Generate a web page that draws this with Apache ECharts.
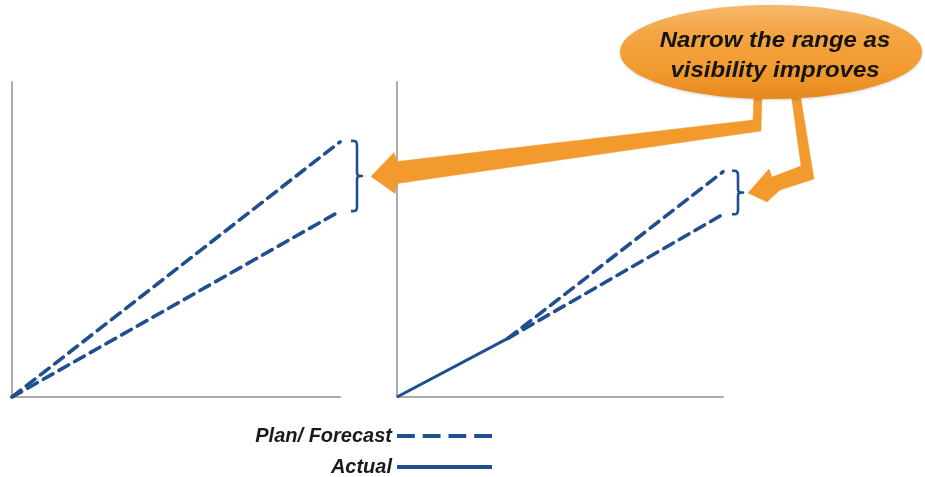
<!DOCTYPE html>
<html>
<head>
<meta charset="utf-8">
<title>Narrow the range as visibility improves</title>
<script src="https://cdn.jsdelivr.net/npm/echarts@6/dist/echarts.min.js"></script>
<style>
  html, body { margin: 0; padding: 0; background: #ffffff; }
  #chart { width: 925px; height: 477px; }
</style>
</head>
<body>
<div id="chart"></div>
<script>
// Early plan: wide forecast range from the start
const planUpper = [[0, 0], [100, 81]];
const planLower = [[0, 0], [100, 59]];

// Later: actuals so far, then a narrower forecast range
const actualPoint = [34, 18.6];
const actual = [[0, 0], actualPoint];
const forecastUpper = [actualPoint, [100, 71.5]];
const forecastLower = [actualPoint, [100, 58]];

const legendLabels = ['Plan/ Forecast', 'Actual'];
const calloutLines = ['Narrow the range as', 'visibility improves'];

const BLUE = '#1f4f8f';
const ORANGE = '#f29a2e';
const AXIS_GREY = '#acacac';
const FONT = '"Liberation Sans", Arial, sans-serif';

// Legend keys: four dashes for the forecast, one bar for actuals
const DASH_ICON = 'path://M0 0h18v4H0z M26 0h18v4h-18z M52 0h18v4h-18z M78 0h18v4h-18z';
const SOLID_ICON = 'path://M0 0h96v4H0z';

const chart = echarts.init(document.getElementById('chart'), null, { renderer: 'canvas' });

function valueAxis(gridIndex) {
  return {
    type: 'value', gridIndex, min: 0, max: 100,
    axisLine: { show: true, lineStyle: { color: AXIS_GREY, width: 2 } },
    axisTick: { show: false }, axisLabel: { show: false }, splitLine: { show: false }
  };
}

const dashed = { color: BLUE, width: 3.6, type: [11, 7], cap: 'round' };
const solid = { color: BLUE, width: 3, type: 'solid' };

function lineSeries(name, data, gridIndex, style) {
  return {
    name, type: 'line', data,
    xAxisIndex: gridIndex, yAxisIndex: gridIndex,
    symbol: 'none', showSymbol: false, silent: true, animation: false,
    lineStyle: style, itemStyle: { color: BLUE }, z: 3
  };
}

const legendText = {
  fontFamily: FONT, fontSize: 20, fontWeight: 'bold', fontStyle: 'italic',
  color: '#1a1a1a', lineHeight: 22
};

function legendBlock(name, icon, top) {
  return {
    data: [{ name, icon }],
    orient: 'horizontal', align: 'right',
    right: 433, top, padding: 0,
    itemWidth: 95, itemHeight: 4,
    selectedMode: false,
    textStyle: legendText
  };
}

chart.setOption({
  animation: false,
  grid: [
    { left: 12, top: 82, width: 328, height: 315 },
    { left: 397, top: 82, width: 326, height: 315 }
  ],
  xAxis: [valueAxis(0), valueAxis(1)],
  yAxis: [valueAxis(0), valueAxis(1)],
  legend: [
    legendBlock(legendLabels[0], DASH_ICON, 425),
    legendBlock(legendLabels[1], SOLID_ICON, 456)
  ],
  series: [
    lineSeries(legendLabels[0], planUpper, 0, dashed),
    lineSeries(legendLabels[0], planLower, 0, dashed),
    lineSeries(legendLabels[1], actual, 1, solid),
    lineSeries(legendLabels[0], forecastUpper, 1, dashed),
    lineSeries(legendLabels[0], forecastLower, 1, dashed)
  ]
});

// Sample a cubic Bézier segment into polyline points
function cubic(p0, p1, p2, p3, n) {
  const out = [];
  for (let i = 1; i <= n; i++) {
    const t = i / n, u = 1 - t;
    out.push([
      u * u * u * p0[0] + 3 * u * u * t * p1[0] + 3 * u * t * t * p2[0] + t * t * t * p3[0],
      u * u * u * p0[1] + 3 * u * u * t * p1[1] + 3 * u * t * t * p2[1] + t * t * t * p3[1]
    ]);
  }
  return out;
}

// Curly brace spanning the forecast range at the end of a panel
function bracePoints(x0, y1, y2) {
  const xv = x0 + 6, xt = x0 + 11, ym = (y1 + y2) / 2;
  let pts = [[x0, y1]];
  pts = pts.concat(cubic([x0, y1], [x0 + 5, y1], [xv, y1], [xv, y1 + 6], 8));
  pts.push([xv, ym - 5]);
  pts = pts.concat(cubic([xv, ym - 5], [xv, ym - 1], [xv, ym], [xt, ym], 6));
  pts = pts.concat(cubic([xt, ym], [xv, ym], [xv, ym + 1], [xv, ym + 5], 6));
  pts.push([xv, y2 - 6]);
  pts = pts.concat(cubic([xv, y2 - 6], [xv, y2], [x0 + 5, y2], [x0, y2], 8));
  return pts;
}

const lUp = chart.convertToPixel({ gridIndex: 0 }, planUpper[1]);
const lLo = chart.convertToPixel({ gridIndex: 0 }, planLower[1]);
const rUp = chart.convertToPixel({ gridIndex: 1 }, forecastUpper[1]);
const rLo = chart.convertToPixel({ gridIndex: 1 }, forecastLower[1]);

const leftBraceX = lUp[0] + 11;
const rightBraceX = rUp[0] + 9;
const leftTip = [leftBraceX + 11 + 9, (lUp[1] + lLo[1]) / 2];
const rightTip = [rightBraceX + 11 + 5, (rUp[1] + rLo[1]) / 2];

// Callout bubble
const bubble = { cx: 771, cy: 52, rx: 151, ry: 47 };
const bubbleBottom = bubble.cy + bubble.ry - 6;

function offset(tip, pts) {
  return pts.map(p => [tip[0] + p[0], tip[1] + p[1]]);
}

// Long arrow to the left brace
const arrowLeft = [[754, bubbleBottom], [762, bubbleBottom], [761, 131]]
  .concat(offset(leftTip, [[26, 7], [24, 17], [0, 0], [23, -24], [26, -15]]))
  .concat([[753, 120]]);

// Short bent arrow to the right brace
const arrowRight = [[791, bubbleBottom], [800, bubbleBottom], [814, 179]]
  .concat(offset(rightTip, [[32, -3], [19, 9], [0, 0], [21, -24], [24, -16]]))
  .concat([[801, 166]]);

chart.setOption({
  graphic: [
    { type: 'polyline', silent: true, z: 10,
      shape: { points: bracePoints(leftBraceX, lUp[1] - 1, lLo[1]) },
      style: { fill: null, stroke: BLUE, lineWidth: 2.6, lineJoin: 'round' } },
    { type: 'polyline', silent: true, z: 10,
      shape: { points: bracePoints(rightBraceX, rUp[1] - 1, rLo[1]) },
      style: { fill: null, stroke: BLUE, lineWidth: 2.6, lineJoin: 'round' } },
    { type: 'polygon', silent: true, z: 20,
      shape: { points: arrowLeft },
      style: { fill: ORANGE, stroke: ORANGE, lineWidth: 0.5 } },
    { type: 'polygon', silent: true, z: 20,
      shape: { points: arrowRight },
      style: { fill: ORANGE, stroke: ORANGE, lineWidth: 0.5 } },
    { type: 'ellipse', silent: true, z: 30,
      shape: bubble,
      style: {
        fill: {
          type: 'linear', x: 0, y: 0, x2: 0, y2: 1,
          colorStops: [
            { offset: 0, color: '#f7b86c' },
            { offset: 0.3, color: '#f4a543' },
            { offset: 0.7, color: '#f29a2e' },
            { offset: 1, color: '#e6891f' }
          ]
        },
        shadowBlur: 3, shadowOffsetY: 1, shadowColor: 'rgba(0,0,0,0.18)'
      } },
    { type: 'text', silent: true, z: 40,
      x: 775, y: 56, scaleX: 1.09,
      style: {
        text: calloutLines.join('\n'),
        fontFamily: FONT, fontSize: 22, fontWeight: 'bold', fontStyle: 'italic',
        lineHeight: 30, fill: '#141414', align: 'center', verticalAlign: 'middle'
      } }
  ]
});
</script>
</body>
</html>
